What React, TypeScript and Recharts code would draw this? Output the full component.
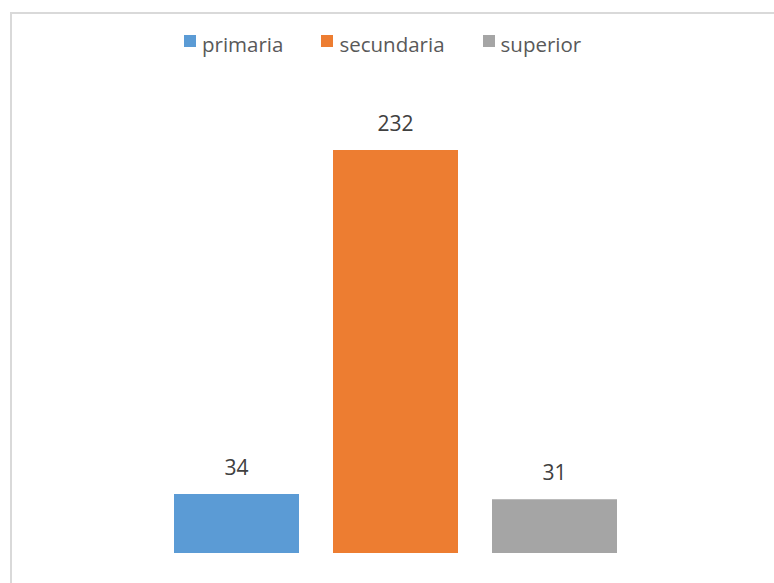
import React from 'react';
import { BarChart, Bar, XAxis, YAxis, Legend, LabelList } from 'recharts';

const categories = ['nivel'];
const seriesNames = ['primaria', 'secundaria', 'superior'];
const primaria = [34];
const secundaria = [232];
const superior = [31];
const colors = ['#5B9BD5', '#ED7D31', '#A5A5A5'];

const data = categories.map((c, i) => ({
  name: c,
  primaria: primaria[i],
  secundaria: secundaria[i],
  superior: superior[i],
}));

const FONT = '"Open Sans", "Noto Sans", sans-serif';

const LegendContent = () => (
  <div style={{ display: 'flex', alignItems: 'center', fontFamily: FONT, fontSize: 20.5, color: '#595959', height: 26, whiteSpace: 'nowrap' }}>
    {seriesNames.map((n, i) => (
      <div key={n} style={{ display: 'flex', alignItems: 'center', marginRight: i < seriesNames.length - 1 ? 38 : 0 }}>
        <span style={{ display: 'inline-block', width: 12, height: 12, background: colors[i], marginRight: 6, position: 'relative', top: -3 }} />
        <span>{n}</span>
      </div>
    ))}
  </div>
);

export default function App() {
  return (
    <div style={{ position: 'fixed', left: 0, top: 0, width: 774, height: 583, overflow: 'hidden', background: '#fff' }}>
      <div style={{ position: 'absolute', left: 10, top: 12, width: 800, height: 620, border: '2px solid #d9d9d9', boxSizing: 'border-box' }}>
        <BarChart
          width={760}
          height={569}
          data={data}
          margin={{ top: 136, right: 154, bottom: 30, left: 162 }}
          barCategoryGap={0}
          barGap={34}
        >
          <XAxis dataKey="name" hide />
          <YAxis hide domain={[0, 232]} />
          <Legend
            layout="horizontal"
            verticalAlign="middle"
            align="center"
            content={<LegendContent />}
            wrapperStyle={{ left: 172, top: 17, width: 'auto' }}
          />
          {seriesNames.map((n, i) => (
            <Bar key={n} dataKey={n} fill={colors[i]} isAnimationActive={false}>
              <LabelList dataKey={n} position="top" offset={19} fill="#404040" style={{ fontFamily: FONT, fontSize: 21 }} />
            </Bar>
          ))}
        </BarChart>
      </div>
    </div>
  );
}
